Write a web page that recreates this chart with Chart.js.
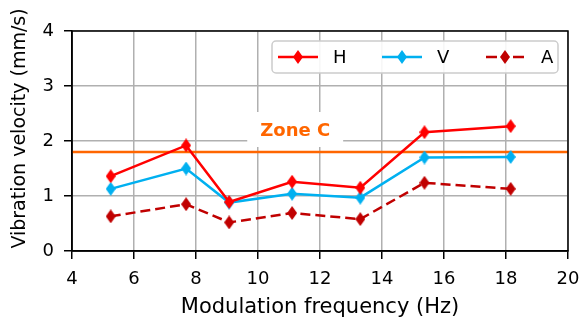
<!DOCTYPE html>
<html>
<head>
<meta charset="utf-8">
<script src="https://cdn.jsdelivr.net/npm/chart.js@4/dist/chart.umd.min.js"></script>
<style>
  html, body { margin: 0; padding: 0; background: #fff; }
  #wrap { width: 580px; height: 320px; }
</style>
</head>
<body>
<div id="wrap"><canvas id="chart" width="580" height="320"></canvas></div>
<script>
const freqs = [5.25, 7.68, 9.07, 11.1, 13.3, 15.37, 18.15];
const hValues = [1.36, 1.92, 0.89, 1.26, 1.15, 2.16, 2.27];
const vValues = [1.13, 1.50, 0.88, 1.04, 0.97, 1.70, 1.71];
const aValues = [0.63, 0.85, 0.52, 0.69, 0.58, 1.24, 1.13];
const xTicks = [4, 6, 8, 10, 12, 14, 16, 18, 20];
const yTicks = [0, 1, 2, 3, 4];
const zoneLevel = 1.8;
const zoneLabel = { text: 'Zone C', x: 11.2, y: 2.2 };
const yTitle = 'Vibration velocity (mm/s)';

const FONT = "'DejaVu Sans', sans-serif";

function thinDiamond(color) {
  const c = document.createElement('canvas');
  c.width = 10; c.height = 14;
  const g = c.getContext('2d');
  g.fillStyle = color;
  g.beginPath();
  g.moveTo(5, 0); g.lineTo(10, 7); g.lineTo(5, 14); g.lineTo(0, 7);
  g.closePath();
  g.fill();
  return c;
}

function series(label, values, color, dash) {
  return {
    label: label,
    data: freqs.map((f, i) => ({ x: f, y: values[i] })),
    borderColor: color,
    backgroundColor: color,
    borderWidth: 2.5,
    borderDash: dash,
    pointStyle: thinDiamond(color),
    pointRadius: 6,
    tension: 0
  };
}

const zoneLine = {
  label: 'zone',
  data: [{ x: xTicks[0], y: zoneLevel }, { x: xTicks[xTicks.length - 1], y: zoneLevel }],
  borderColor: '#ff6600',
  borderWidth: 2.5,
  pointRadius: 0,
  isZone: true
};

const zonePlugin = {
  id: 'zone',
  beforeDatasetsDraw(chart) {
    const ctx = chart.ctx;
    const x = chart.scales.x.getPixelForValue(zoneLabel.x);
    const y = chart.scales.y.getPixelForValue(zoneLabel.y);
    ctx.save();
    ctx.font = 'bold 18px ' + FONT;
    const w = ctx.measureText(zoneLabel.text).width;
    ctx.fillStyle = '#fff';
    ctx.fillRect(x - w / 2 - 13, y - 18, w + 26, 35);
    ctx.fillStyle = '#ff6600';
    ctx.textAlign = 'center';
    ctx.textBaseline = 'middle';
    ctx.fillText(zoneLabel.text, x, y + 1);
    ctx.restore();
  }
};

const framePlugin = {
  id: 'frame',
  afterDraw(chart) {
    const ctx = chart.ctx;
    const a = chart.chartArea;
    ctx.save();
    ctx.strokeStyle = '#000';
    ctx.lineWidth = 1.5;
    ctx.strokeRect(a.left, a.top, a.right - a.left, a.bottom - a.top);

    // y axis title, placed like the original
    ctx.save();
    ctx.translate(20, 128.5);
    ctx.rotate(-Math.PI / 2);
    ctx.font = '19px ' + FONT;
    ctx.fillStyle = '#000';
    ctx.textAlign = 'center';
    ctx.textBaseline = 'middle';
    ctx.fillText(yTitle, 0, 0);
    ctx.restore();

    // legend
    const sets = chart.data.datasets.filter(d => !d.isZone);
    const bx = 272, by = 41, bw = 286, bh = 32;
    ctx.fillStyle = 'rgba(255,255,255,0.9)';
    ctx.strokeStyle = '#cccccc';
    ctx.lineWidth = 1.5;
    ctx.beginPath();
    ctx.roundRect(bx, by, bw, bh, 4);
    ctx.fill();
    ctx.stroke();
    const cy = by + bh / 2;
    const starts = [278, 382, 486];
    sets.forEach((d, i) => {
      const x0 = starts[i];
      ctx.strokeStyle = d.borderColor;
      ctx.lineWidth = 2.5;
      if (d.borderDash) {
        ctx.beginPath();
        ctx.moveTo(x0, cy); ctx.lineTo(x0 + 11, cy);
        ctx.moveTo(x0 + 27, cy); ctx.lineTo(x0 + 38, cy);
        ctx.stroke();
      } else {
        ctx.beginPath();
        ctx.moveTo(x0, cy);
        ctx.lineTo(x0 + 40, cy);
        ctx.stroke();
      }
      const mx = d.borderDash ? x0 + 19 : x0 + 20;
      ctx.drawImage(d.pointStyle, mx - 5, cy - 7);
      ctx.fillStyle = '#000';
      ctx.font = '18px ' + FONT;
      ctx.textBaseline = 'middle';
      ctx.textAlign = 'left';
      ctx.fillText(d.label, x0 + 55, cy + 1);
    });
    ctx.restore();
  }
};

new Chart(document.getElementById('chart'), {
  type: 'line',
  data: {
    datasets: [
      series('H', hValues, '#ff0000'),
      series('V', vValues, '#00b0f0'),
      series('A', aValues, '#c00000', [10, 5]),
      zoneLine
    ]
  },
  options: {
    responsive: false,
    animation: false,
    events: [],
    layout: { padding: { left: 0, top: 31, right: 12, bottom: 0 } },
    plugins: { legend: { display: false }, tooltip: { enabled: false } },
    scales: {
      x: {
        type: 'linear',
        min: xTicks[0],
        max: xTicks[xTicks.length - 1],
        afterBuildTicks(s) { s.ticks = xTicks.map(v => ({ value: v })); },
        afterFit(s) { s.height = 69; s.paddingLeft = 0; s.paddingRight = 0; },
        ticks: { font: { family: FONT, size: 18 }, color: '#000', padding: 10 },
        grid: { color: '#b0b0b0', lineWidth: 1.5, tickColor: '#000', tickLength: 8, tickWidth: 1.5 },
        border: { color: '#000', width: 1.5 },
        title: { display: true, text: 'Modulation frequency (Hz)', font: { family: FONT, size: 21 }, color: '#000', padding: 0 }
      },
      y: {
        min: yTicks[0],
        max: yTicks[yTicks.length - 1],
        afterBuildTicks(s) { s.ticks = yTicks.map(v => ({ value: v })); },
        afterFit(s) { s.width = 72; s.paddingTop = 0; s.paddingBottom = 0; },
        ticks: { font: { family: FONT, size: 18 }, color: '#000', padding: 10 },
        grid: { color: '#b0b0b0', lineWidth: 1.5, tickColor: '#000', tickLength: 8, tickWidth: 1.5 },
        border: { color: '#000', width: 1.5 }
      }
    }
  },
  plugins: [zonePlugin, framePlugin]
});
</script>
</body>
</html>
